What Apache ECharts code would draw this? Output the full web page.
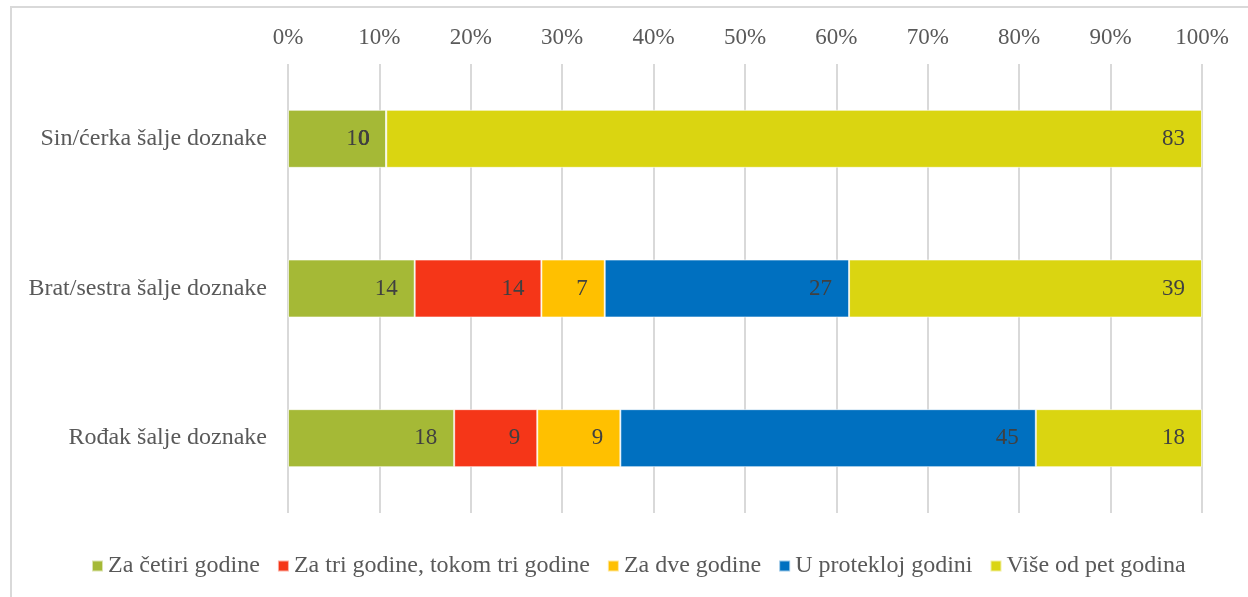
<!DOCTYPE html>
<html>
<head>
<meta charset="utf-8">
<style>
  html, body { margin: 0; padding: 0; background: #fff; }
  #chart { width: 1248px; height: 597px; }
</style>
<script src="https://cdn.jsdelivr.net/npm/echarts@6/dist/echarts.min.js"></script>
</head>
<body>
<div id="chart"></div>
<script>
// Kategorije (odozgo nadole)
const categories = ['Sin/ćerka šalje doznake', 'Brat/sestra šalje doznake', 'Rođak šalje doznake'];

// Nazivi serija i boje
const seriesNames = ['Za četiri godine', 'Za tri godine, tokom tri godine', 'Za dve godine', 'U protekloj godini', 'Više od pet godina'];
const seriesColors = ['#A5B936', '#F53618', '#FFC000', '#0070C0', '#DAD511'];

// Vrednosti po seriji (redosled kao u categories)
const zaCetiri   = [10, 14, 18];
const zaTri      = [0, 14, 9];
const zaDve      = [0, 7, 9];
const uProtekloj = [0, 27, 45];
const viseOdPet  = [83, 39, 18];

const seriesValues = [zaCetiri, zaTri, zaDve, uProtekloj, viseOdPet];

// Oznake ose (procenti)
const tickValues = [0, 10, 20, 30, 40, 50, 60, 70, 80, 90, 100];

// Zbir po kategoriji za 100% naslagane trake
const totals = categories.map((_, i) => seriesValues.reduce((s, arr) => s + arr[i], 0));

const FONT = 'Liberation Serif, Times New Roman, serif';

const chart = echarts.init(document.getElementById('chart'), null, { renderer: 'canvas' });

chart.setOption({
  backgroundColor: '#fff',
  animation: false,
  graphic: [
    {
      type: 'polyline',
      shape: { points: [[11, 600], [11, 7], [1260, 7]] },
      style: { stroke: '#d9d9d9', lineWidth: 2, fill: null },
      silent: true
    }
  ],
  grid: { left: 288, right: 46, top: 64, bottom: 84, containLabel: false },
  xAxis: {
    type: 'value',
    position: 'top',
    min: tickValues[0],
    max: tickValues[tickValues.length - 1],
    interval: 10,
    axisLine: { show: false },
    axisTick: { show: false },
    axisLabel: {
      formatter: '{value}%',
      color: '#595959',
      fontFamily: FONT,
      fontSize: 23,
      margin: 15
    },
    splitLine: { show: true, lineStyle: { color: '#d9d9d9', width: 2 } }
  },
  yAxis: {
    type: 'category',
    inverse: true,
    data: categories,
    axisLine: { show: false },
    axisTick: { show: false },
    axisLabel: {
      color: '#595959',
      fontFamily: FONT,
      fontSize: 24,
      margin: 21
    }
  },
  legend: {
    bottom: 14,
    left: 86,
    itemWidth: 11,
    itemHeight: 11,
    itemGap: 17,
    icon: 'rect',
    textStyle: { color: '#595959', fontFamily: FONT, fontSize: 24 },
    data: seriesNames
  },
  series: seriesNames.map((name, si) => ({
    name,
    type: 'bar',
    stack: 'total',
    barWidth: 58,
    itemStyle: { color: seriesColors[si], borderColor: 'rgba(255,255,255,0.6)', borderWidth: 1 },
    label: {
      show: true,
      position: 'insideRight',
      distance: 17,
      color: '#404040',
      fontFamily: FONT,
      fontSize: 23,
      formatter: p => String(seriesValues[si][p.dataIndex])
    },
    data: seriesValues[si].map((v, i) => v / totals[i] * 100)
  }))
});
</script>
</body>
</html>
